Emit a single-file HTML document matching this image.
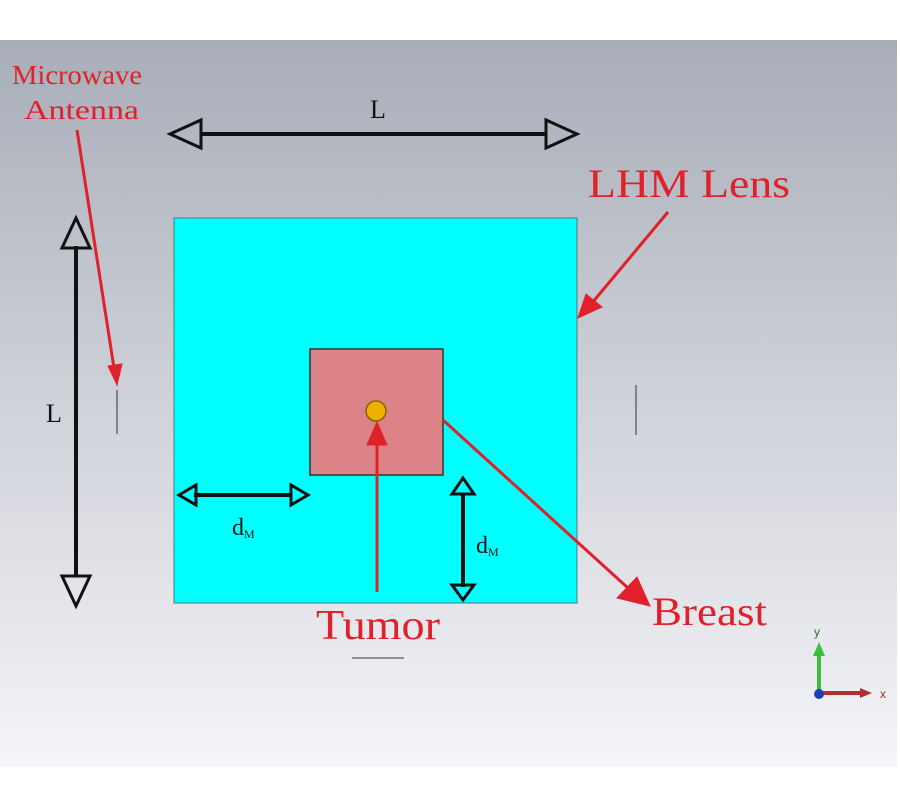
<!DOCTYPE html>
<html><head><style>body{margin:0;background:#fff}svg{display:block}</style></head><body>
<svg width="900" height="800" viewBox="0 0 900 800" xmlns="http://www.w3.org/2000/svg" font-family="Liberation Serif, serif">
<defs>
<linearGradient id="bg" x1="0" y1="0" x2="0" y2="1">
<stop offset="0" stop-color="#a8adb8"/><stop offset="0.5" stop-color="#cfd2d9"/><stop offset="1" stop-color="#f5f5f8"/>
</linearGradient>
</defs>
<rect x="0" y="40" width="897" height="727" fill="url(#bg)"/>
<rect x="174" y="218" width="403" height="385" fill="#00ffff" stroke="#4a7a80" stroke-width="1"/>
<rect x="310" y="349" width="133" height="126" fill="#dc8388" stroke="#333" stroke-width="1.5"/>
<circle cx="376" cy="411" r="10" fill="#f0b000" stroke="#8a6000" stroke-width="1.5"/>
<g stroke="#111" stroke-width="4" fill="none">
<line x1="200" y1="134" x2="547" y2="134"/>
<line x1="76" y1="246" x2="76" y2="577"/>
<line x1="194" y1="495" x2="292" y2="495"/>
<line x1="463" y1="494" x2="463" y2="587"/>
</g>
<g stroke="#111" stroke-width="3" fill="none" stroke-linejoin="miter">
<polygon points="170,134 201,120 201,148"/>
<polygon points="577,134 546,120 546,148"/>
<polygon points="76,218 62,248 90,248"/>
<polygon points="76,606 62,576 90,576"/>
<polygon points="179,495 196,485 196,505"/>
<polygon points="308,495 291,485 291,505"/>
<polygon points="463,478 452,494 474,494"/>
<polygon points="463,600 452,585 474,585"/>
</g>
<g stroke="#e0202a" stroke-width="3" fill="#e0202a">
<line x1="77" y1="130" x2="114" y2="368"/>
<polygon points="117,385 108,366 122,364" stroke-width="1"/>
<line x1="668" y1="212" x2="592" y2="303"/>
<polygon points="578,318 586,294 602,307" stroke-width="1"/>
<line x1="377" y1="592" x2="377" y2="440"/>
<polygon points="377,422 367,445 387,445" stroke-width="1"/>
<line x1="443" y1="420" x2="628" y2="588"/>
<polygon points="650,606 617,598 637,577" stroke-width="1"/>
</g>
<g stroke="#333" stroke-width="1">
<line x1="117" y1="390" x2="117" y2="434"/>
<line x1="636" y1="385" x2="636" y2="435"/>
<line x1="352" y1="658" x2="404" y2="658"/>
</g>
<g fill="#e0202a">
<text x="12" y="84" font-size="27" textLength="130" lengthAdjust="spacingAndGlyphs">Microwave</text>
<text x="24" y="119" font-size="27" textLength="115" lengthAdjust="spacingAndGlyphs">Antenna</text>
<text x="588" y="197" font-size="40" textLength="202" lengthAdjust="spacingAndGlyphs">LHM Lens</text>
<text x="316" y="639" font-size="42" textLength="124" lengthAdjust="spacingAndGlyphs">Tumor</text>
<text x="652" y="625" font-size="40" textLength="115" lengthAdjust="spacingAndGlyphs">Breast</text>
</g>
<g fill="#111">
<text x="370" y="118" font-size="26">L</text>
<text x="46" y="422" font-size="26">L</text>
<text x="232" y="535" font-size="24">d<tspan font-size="12" dy="3">M</tspan></text>
<text x="476" y="553" font-size="24">d<tspan font-size="12" dy="3">M</tspan></text>
</g>
<line x1="819" y1="692" x2="819" y2="650" stroke="#3ac040" stroke-width="4"/>
<polygon points="819,642 813,656 825,656" fill="#3ac040"/>
<line x1="820" y1="693" x2="864" y2="693" stroke="#b03030" stroke-width="4"/>
<polygon points="872,693 860,688 860,698" fill="#b03030"/>
<circle cx="819" cy="694" r="5" fill="#2040b0"/>
<text x="814" y="636" font-size="12" fill="#2a6a2a" font-family="Liberation Sans, sans-serif">y</text>
<text x="880" y="698" font-size="12" fill="#a03030" font-family="Liberation Sans, sans-serif">x</text>
</svg>
</body></html>
